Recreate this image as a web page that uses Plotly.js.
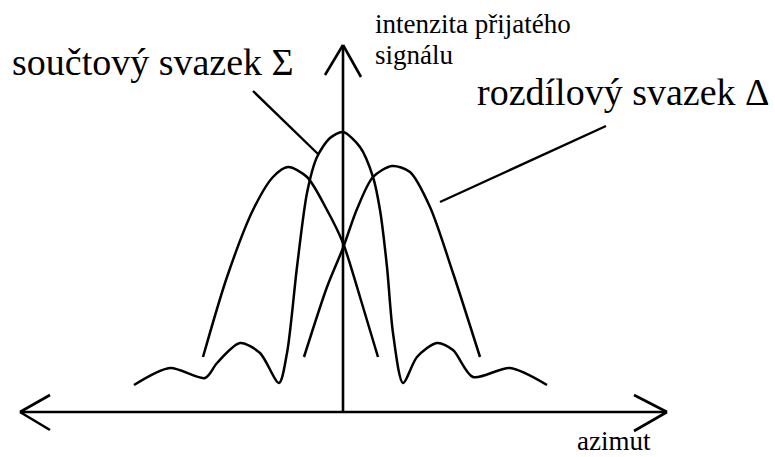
<!DOCTYPE html>
<html>
<head>
<meta charset="utf-8">
<script src="https://cdn.plot.ly/plotly-3.0.1.min.js"></script>
<style>html,body{margin:0;padding:0;background:#fff;}#chart{width:775px;height:457px;}</style>
</head>
<body>
<div id="chart"></div>
<script>
// Units: azimuth (arbitrary, 0 = boresight), received intensity (arbitrary)
// Sum beam Σ (main lobe + side lobes)
const sumAz  = [-209,-173,-138,-126,-103,-83,-64,-56,-46,-36,-26,-13,0,17,30,37,44,50,60,74,94,110,130,167,204];
const sumInt = [27,44,34,49,69,59,29,59,145,219,255,274,280,265,235,202,145,79,29,55,69,62,35,44,27];

// Difference beam Δ, left lobe
const diffLAz  = [-140,-116,-90,-70,-55,-36,-16,0,17,35];
const diffLInt = [55,135,202,235,245,235,202,169,115,55];
// Difference beam Δ, right lobe
const diffRAz  = [-39,-16,0,14,30,49,67,87,110,137];
const diffRInt = [55,125,164,203,235,246,240,205,139,55];

// Axis extents
const azLimits  = [-323, 324];
const intLimit  = 367;

// Labels
const sumLabel  = "součtový svazek Σ";
const diffLabel = "rozdílový svazek Δ";
const yLabel1   = "intenzita přijatého";
const yLabel2   = "signálu";
const xLabel    = "azimut";

// Leader lines (label -> curve)
const sumLeaderAz = [-90, -25], sumLeaderInt = [321, 258];
const diffLeaderAz = [263, 97], diffLeaderInt = [286, 210];

const lineStyle = {color: '#000', width: 2.5, shape: 'spline', smoothing: 0.8};
const straight = {color: '#000', width: 2.4};

const traces = [
  {x: sumAz, y: sumInt, mode: 'lines', line: lineStyle, hoverinfo: 'skip'},
  {x: diffLAz, y: diffLInt, mode: 'lines', line: lineStyle, hoverinfo: 'skip'},
  {x: diffRAz, y: diffRInt, mode: 'lines', line: lineStyle, hoverinfo: 'skip'},
  {x: sumLeaderAz, y: sumLeaderInt, mode: 'lines', line: straight, hoverinfo: 'skip'},
  {x: diffLeaderAz, y: diffLeaderInt, mode: 'lines', line: straight, hoverinfo: 'skip'}
];

const ax = {color: '#000', width: 2.6};
const L = azLimits[0], R = azLimits[1], T = intLimit;
const shapes = [
  {type: 'line', x0: L, y0: 0, x1: R, y1: 0, line: ax},
  {type: 'line', x0: 0, y0: 0, x1: 0, y1: T, line: ax},
  // left arrow
  {type: 'line', x0: L, y0: 0, x1: L + 30, y1: 17, line: ax},
  {type: 'line', x0: L, y0: 0, x1: L + 30, y1: -18, line: ax},
  // right arrow
  {type: 'line', x0: R, y0: 0, x1: R - 33, y1: 17, line: ax},
  {type: 'line', x0: R, y0: 0, x1: R - 33, y1: -19, line: ax},
  // top arrow
  {type: 'line', x0: 0, y0: T, x1: -18, y1: T - 30, line: ax},
  {type: 'line', x0: 0, y0: T, x1: 18, y1: T - 32, line: ax}
];

const fontFamily = "Liberation Serif";
const ann = (text, x, y, size) => ({
  text: text, x: x, y: y, xref: 'x', yref: 'y', xanchor: 'left', yanchor: 'middle',
  showarrow: false, font: {family: fontFamily, size: size, color: '#000'}
});
const annotations = [
  ann(sumLabel, -333, 350, 38),
  ann(diffLabel, 132, 320, 38),
  ann(yLabel1, 30, 388, 27),
  ann(yLabel2, 30, 357, 27),
  ann(xLabel, 232, -29, 27)
];

const layout = {
  width: 775, height: 457,
  margin: {l: 0, r: 0, t: 0, b: 0},
  paper_bgcolor: '#fff', plot_bgcolor: '#fff',
  showlegend: false,
  xaxis: {range: [-343, 432], visible: false, fixedrange: true},
  yaxis: {range: [-45, 412], visible: false, fixedrange: true},
  shapes: shapes,
  annotations: annotations
};

Plotly.newPlot('chart', traces, layout, {displayModeBar: false, staticPlot: true});
</script>
</body>
</html>
